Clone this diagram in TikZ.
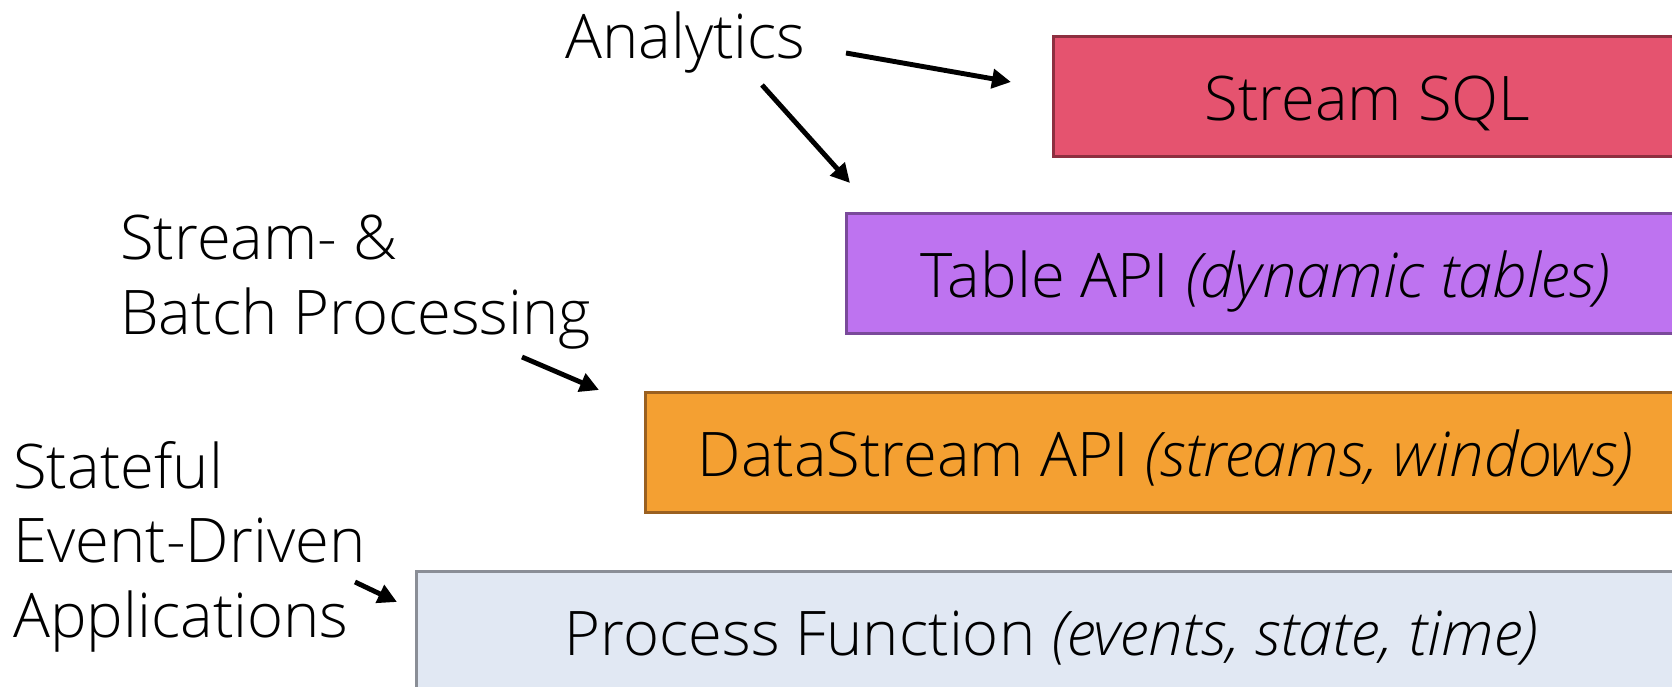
\documentclass[tikz,border=0pt]{standalone}
\usepackage{fontspec}
\setmainfont{Open Sans}[UprightFont=* Light, ItalicFont=* Light Italic]
\usetikzlibrary{arrows.meta,calc}
\definecolor{sqlfill}{HTML}{E5536F}
\definecolor{sqldraw}{HTML}{8E2F40}
\definecolor{tabfill}{HTML}{BE73F0}
\definecolor{tabdraw}{HTML}{7A4A9A}
\definecolor{dsfill}{HTML}{F4A032}
\definecolor{dsdraw}{HTML}{9A6020}
\definecolor{pffill}{HTML}{E1E8F3}
\definecolor{pfdraw}{HTML}{8A8E96}
\begin{document}
\begin{tikzpicture}[x=0.02cm,y=-0.02cm,
  every node/.style={font=\fontsize{35}{42.4}\selectfont},
  layer/.style={rectangle, line width=1.7pt, anchor=north west,
    minimum height=2.4cm, inner sep=0pt, text height=1.2cm, text depth=0.24cm},
  usecase/.style={align=left, inner sep=0pt, anchor=base west},
  arr/.style={line width=2.8pt, -{Triangle[length=0.38cm,width=0.38cm]}}]
\useasboundingbox (0,0) rectangle (1672,686);
\clip (0,0) rectangle (1672,686);
% API layers
\node[layer, fill=sqlfill, draw=sqldraw, minimum width=12.56cm] (sql) at (1052,35) {Stream SQL};
\node[layer, fill=tabfill, draw=tabdraw, minimum width=16.76cm] (tab) at (845,212) {Table API \textit{(dynamic tables)}};
\node[layer, fill=dsfill, draw=dsdraw, minimum width=20.8cm] (ds) at (644,391) {DataStream API \textit{(streams, windows)}};
\node[layer, fill=pffill, draw=pfdraw, minimum width=25.4cm] (pf) at (415,570) {Process Function \textit{(events, state, time)}};
% use cases (base anchor sits on the last line)
\node[usecase] (ana) at (565,59) {Analytics};
\node[usecase] (batch) at (120,334) {Stream- \&\\Batch Processing};
\node[usecase] (state) at (13,637) {Stateful\\Event-Driven\\Applications};
% arrows
\coordinate (a1s) at ($(ana.base west)+(281,-6)$);
\coordinate (a1e) at ($(sql.north west)+(-41,47)$);
\coordinate (a2s) at ($(ana.base west)+(197,26)$);
\coordinate (a2e) at ($(tab.north west)+(5,-29)$);
\coordinate (a3s) at ($(batch.base west)+(402,23)$);
\coordinate (a3e) at ($(ds.north west)+(-45,-1)$);
\coordinate (a4s) at ($(state.base west)+(342,-55)$);
\coordinate (a4e) at ($(pf.north west)+(-18,32)$);
\draw[arr] (a1s) -- (a1e);
\draw[arr] (a2s) -- (a2e);
\draw[arr] (a3s) -- (a3e);
\draw[arr] (a4s) -- (a4e);
\end{tikzpicture}
\end{document}
